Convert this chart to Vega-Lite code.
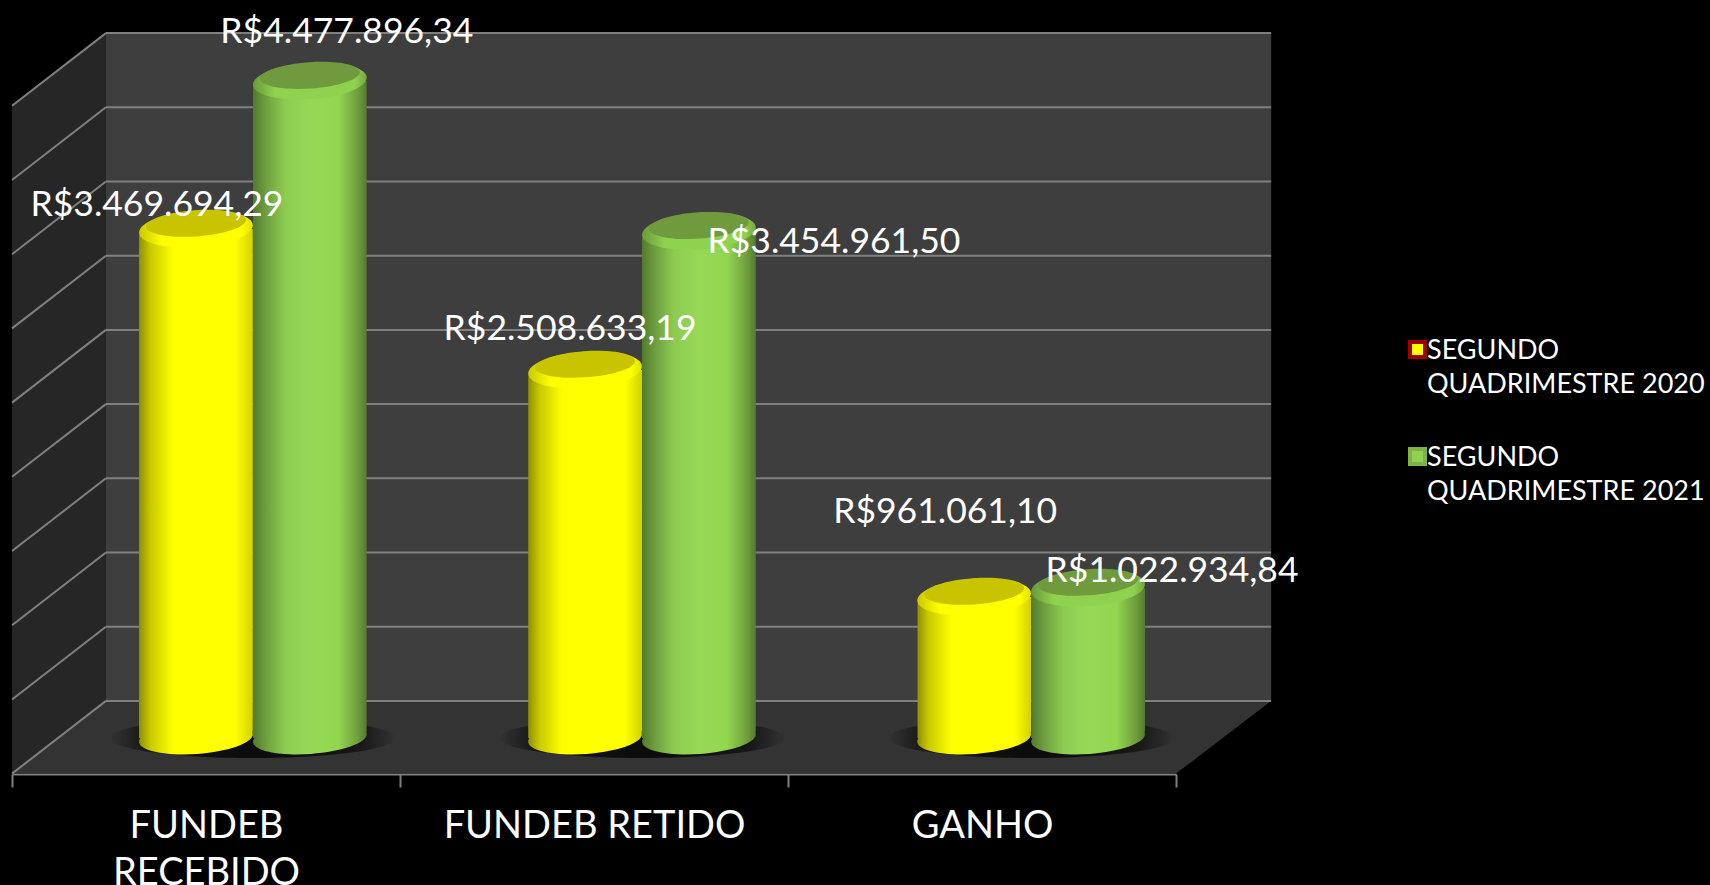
{
"$schema":"https://vega.github.io/schema/vega-lite/v6.json",
"width":1710,"height":885,"padding":0,"autosize":{"type":"none"},
"background":"#000000",
"config":{"view":{"stroke":null},"font":"Lato","text":{"font":"Lato"}},
"datasets":{
"leftWall":[{"pos":0.5,"lo":-242782,"hi":4309373},{"pos":0.742,"lo":252898,"hi":4805053}],
"backWall":[{"pos":0.742,"lo":252898,"hi":4805053},{"pos":3.745,"lo":252898,"hi":4805053}],
"floor":[{"lvl":-242782,"a":0.5,"b":3.5},{"lvl":252898,"a":0.742,"b":3.745}],
"grid":[
{"front":-242782,"back":252898},{"front":263013,"back":758693},{"front":768808,"back":1264488},{"front":1274603,"back":1770283},{"front":1780398,"back":2276078},{"front":2286193,"back":2781873},{"front":2791988,"back":3287668},{"front":3297783,"back":3793463},{"front":3803578,"back":4299258},{"front":4309373,"back":4805053}]
},
"data":{"values":[
{"category":"FUNDEB RECEBIDO","series":"SEGUNDO QUADRIMESTRE 2020","value":3469694.29,"label":"R$3.469.694,29"},
{"category":"FUNDEB RECEBIDO","series":"SEGUNDO QUADRIMESTRE 2021","value":4477896.34,"label":"R$4.477.896,34"},
{"category":"FUNDEB RETIDO","series":"SEGUNDO QUADRIMESTRE 2020","value":2508633.19,"label":"R$2.508.633,19"},
{"category":"FUNDEB RETIDO","series":"SEGUNDO QUADRIMESTRE 2021","value":3454961.50,"label":"R$3.454.961,50"},
{"category":"GANHO","series":"SEGUNDO QUADRIMESTRE 2020","value":961061.10,"label":"R$961.061,10"},
{"category":"GANHO","series":"SEGUNDO QUADRIMESTRE 2021","value":1022934.84,"label":"R$1.022.934,84"}
]},
"resolve":{"scale":{"x":"independent"}},
"layer":[
{
"layer":[
{"data":{"name":"leftWall"},"mark":{"type":"area","fill":"#262626"},
 "encoding":{"x":{"field":"pos","type":"quantitative","axis":null,"scale":{"domain":[0.469,4.876],"nice":false,"zero":false}},
 "y":{"field":"lo","type":"quantitative","axis":null,"scale":{"domain":[-1002045,5030675],"nice":false,"zero":false}},"y2":{"field":"hi"}}},
{"data":{"name":"backWall"},"mark":{"type":"area","fill":"#3e3e3e"},
 "encoding":{"x":{"field":"pos","type":"quantitative","axis":null},
 "y":{"field":"lo","type":"quantitative","axis":null},"y2":{"field":"hi"}}},
{"data":{"name":"floor"},"mark":{"type":"area","orient":"horizontal","fill":"#333333"},
 "encoding":{"y":{"field":"lvl","type":"quantitative","axis":null},
 "x":{"field":"a","type":"quantitative","axis":null},"x2":{"field":"b"}}},
{"data":{"name":"grid"},"mark":{"type":"rule","stroke":"#808080","strokeWidth":2},
 "encoding":{"x":{"datum":0.5,"type":"quantitative","axis":null},"x2":{"datum":0.742},
 "y":{"field":"front","type":"quantitative","axis":null},"y2":{"field":"back"}}},
{"data":{"name":"grid"},"mark":{"type":"rule","stroke":"#808080","strokeWidth":2},
 "encoding":{"x":{"datum":0.742,"type":"quantitative","axis":null},"x2":{"datum":3.745},
 "y":{"field":"back","type":"quantitative","axis":null}}}
]},
{
"transform":[{"filter":"datum.series == 'SEGUNDO QUADRIMESTRE 2021'"}],
"mark":{"type":"point","filled":true,"opacity":1,"size":82000,
 "shape":"M-1,0 A1,0.14 0 1 1 1,0 A1,0.14 0 1 1 -1,0 Z",
 "fill":{"gradient":"radial","x1":0.5,"y1":0.5,"r1":0,"x2":0.5,"y2":0.5,"r2":0.5,"stops":[{"offset":0,"color":"rgba(0,0,0,0.8)"},{"offset":0.75,"color":"rgba(0,0,0,0.55)"},{"offset":1,"color":"rgba(0,0,0,0)"}]}},
 "encoding":{"x":{"field":"category","type":"nominal","axis":null,"sort":null,"scale":{"type":"band","range":[139,1145],"paddingInner":0.4146,"paddingOuter":0}},
 "y":{"datum":0,"type":"quantitative","axis":null}}
},
{
"encoding":{
 "x":{"field":"category","type":"nominal","axis":null,"sort":null,"scale":{"range":[139,1145],"paddingInner":0.4146,"paddingOuter":0}},
 "xOffset":{"field":"series","type":"nominal","sort":null,"scale":{"domain":["SEGUNDO QUADRIMESTRE 2020","SEGUNDO QUADRIMESTRE 2021"]}},
 "y":{"field":"value","type":"quantitative","axis":null}
},
"layer":[
{"transform":[{"filter":"datum.series == 'SEGUNDO QUADRIMESTRE 2020'"}],
"layer":[
 {"mark":{"type":"point","filled":true,"opacity":1,"size":12996,"shape":"M-0.9976,0.0698 A1,0.28 -4 1 1 0.9976,-0.0698 A1,0.28 -4 1 1 -0.9976,0.0698 Z",
  "fill":{"gradient":"linear","x1":0,"y1":0,"x2":1,"y2":0,"stops":[{"offset":0,"color":"#8f8f00"},{"offset":0.1,"color":"#c9c900"},{"offset":0.3,"color":"#ffff00"},{"offset":0.85,"color":"#ffff00"},{"offset":1,"color":"#d2d200"}]}},
  "encoding":{"y":{"datum":0,"type":"quantitative","axis":null}}},
 {"mark":{"type":"bar","cornerRadiusTopLeft":8,"cornerRadiusBottomRight":8,
  "fill":{"gradient":"linear","x1":0,"y1":0,"x2":1,"y2":0,"stops":[{"offset":0,"color":"#8f8f00"},{"offset":0.1,"color":"#c9c900"},{"offset":0.3,"color":"#ffff00"},{"offset":0.85,"color":"#ffff00"},{"offset":1,"color":"#d2d200"}]}}},
 {"mark":{"type":"point","filled":true,"opacity":1,"size":12996,"shape":"M-0.9976,0.0698 A1,0.32 -4 1 1 0.9976,-0.0698 A1,0.32 -4 1 1 -0.9976,0.0698 Z",
  "fill":{"gradient":"linear","x1":0,"y1":0,"x2":1,"y2":0,"stops":[{"offset":0,"color":"#c9c900"},{"offset":0.2,"color":"#ffff00"},{"offset":0.9,"color":"#ffff00"},{"offset":1,"color":"#e0e000"}]}}},
 {"mark":{"type":"point","filled":true,"opacity":1,"size":12996,"color":"#c8c400","fill":"#c8c400","shape":"M-0.878,-0.039 A0.88,0.23 -4 1 1 0.878,-0.161 A0.88,0.23 -4 1 1 -0.878,-0.039 Z"}}
]},
{"transform":[{"filter":"datum.series == 'SEGUNDO QUADRIMESTRE 2021'"}],
"layer":[
 {"mark":{"type":"point","filled":true,"opacity":1,"size":12996,"shape":"M-0.9976,0.0698 A1,0.28 -4 1 1 0.9976,-0.0698 A1,0.28 -4 1 1 -0.9976,0.0698 Z",
  "fill":{"gradient":"linear","x1":0,"y1":0,"x2":1,"y2":0,"stops":[{"offset":0,"color":"#527a2e"},{"offset":0.12,"color":"#6fa040"},{"offset":0.28,"color":"#8ccb50"},{"offset":0.5,"color":"#97d957"},{"offset":0.75,"color":"#92d64f"},{"offset":0.92,"color":"#6f9e3c"},{"offset":1,"color":"#557a30"}]}},
  "encoding":{"y":{"datum":0,"type":"quantitative","axis":null}}},
 {"mark":{"type":"bar","cornerRadiusTopLeft":8,"cornerRadiusBottomRight":8,
  "fill":{"gradient":"linear","x1":0,"y1":0,"x2":1,"y2":0,"stops":[{"offset":0,"color":"#527a2e"},{"offset":0.12,"color":"#6fa040"},{"offset":0.28,"color":"#8ccb50"},{"offset":0.5,"color":"#97d957"},{"offset":0.75,"color":"#92d64f"},{"offset":0.92,"color":"#6f9e3c"},{"offset":1,"color":"#557a30"}]}}},
 {"mark":{"type":"point","filled":true,"opacity":1,"size":12996,"shape":"M-0.9976,0.0698 A1,0.32 -4 1 1 0.9976,-0.0698 A1,0.32 -4 1 1 -0.9976,0.0698 Z",
  "fill":{"gradient":"linear","x1":0,"y1":0,"x2":1,"y2":0,"stops":[{"offset":0,"color":"#6a9a3a"},{"offset":0.2,"color":"#8fd24f"},{"offset":0.9,"color":"#8fd24f"},{"offset":1,"color":"#74a542"}]}}},
 {"mark":{"type":"point","filled":true,"opacity":1,"size":12996,"color":"#6f9a3d","fill":"#6f9a3d","shape":"M-0.878,-0.039 A0.88,0.23 -4 1 1 0.878,-0.161 A0.88,0.23 -4 1 1 -0.878,-0.039 Z"}}
]},
{"transform":[{"filter":"datum.value == 4477896.34"}],"mark":{"type":"text","color":"#ffffff","fontSize":35.5,"align":"center","baseline":"alphabetic","dx":37,"dy":-38},"encoding":{"text":{"field":"label"}}},
{"transform":[{"filter":"datum.value == 3469694.29"}],"mark":{"type":"text","color":"#ffffff","fontSize":35.5,"align":"center","baseline":"alphabetic","dx":-39,"dy":-13},"encoding":{"text":{"field":"label"}}},
{"transform":[{"filter":"datum.value == 2508633.19"}],"mark":{"type":"text","color":"#ffffff","fontSize":35.5,"align":"center","baseline":"alphabetic","dx":-15,"dy":-30},"encoding":{"text":{"field":"label"}}},
{"transform":[{"filter":"datum.value == 3454961.50"}],"mark":{"type":"text","color":"#ffffff","fontSize":35.5,"align":"center","baseline":"alphabetic","dx":135,"dy":22},"encoding":{"text":{"field":"label"}}},
{"transform":[{"filter":"datum.value == 961061.10"}],"mark":{"type":"text","color":"#ffffff","fontSize":35.5,"align":"center","baseline":"alphabetic","dx":-29,"dy":-74},"encoding":{"text":{"field":"label"}}},
{"transform":[{"filter":"datum.value == 1022934.84"}],"mark":{"type":"text","color":"#ffffff","fontSize":35.5,"align":"center","baseline":"alphabetic","dx":84,"dy":-6},"encoding":{"text":{"field":"label"}}},
{"mark":{"type":"point","filled":true,"size":0,"opacity":1},
 "encoding":{
  "color":{"field":"series","type":"nominal","scale":{"domain":["SEGUNDO QUADRIMESTRE 2020","SEGUNDO QUADRIMESTRE 2021"],"range":["#ffff00","#92d050"]},
   "legend":{"title":null,"orient":"none","legendX":1404,"legendY":336,"symbolType":"square","symbolSize":225,"symbolStrokeWidth":4,"labelColor":"#ffffff","labelFont":"Lato","labelFontSize":27,"labelLimit":400,"labelOffset":-4,"labelExpr":"['SEGUNDO', slice(datum.label, 8)]","labelBaseline":"top","rowPadding":43,"encoding":{"labels":{"dy":{"value":-12},"lineHeight":{"value":34}}}}},
  "stroke":{"field":"series","type":"nominal","scale":{"domain":["SEGUNDO QUADRIMESTRE 2020","SEGUNDO QUADRIMESTRE 2021"],"range":["#a00000","#7fb347"]},
   "legend":{"title":null,"orient":"none","legendX":1404,"legendY":336,"symbolType":"square","symbolSize":225,"symbolStrokeWidth":4,"labelColor":"#ffffff","labelFont":"Lato","labelFontSize":27,"labelLimit":400,"labelOffset":-4,"labelExpr":"['SEGUNDO', slice(datum.label, 8)]","labelBaseline":"top","rowPadding":43,"encoding":{"labels":{"dy":{"value":-12},"lineHeight":{"value":34}}}}}
 }}
]},
{
"mark":{"type":"point","size":0,"opacity":0},
"encoding":{
 "x":{"field":"category","type":"nominal","sort":null,"scale":{"type":"band","range":[12,1176],"paddingInner":0,"paddingOuter":0},
  "axis":{"title":null,"orient":"bottom","offset":-111,"domain":true,"domainColor":"#808080","domainWidth":2,"ticks":true,"tickColor":"#808080","tickWidth":2,"tickSize":13,"tickBand":"extent","labelAngle":0,"labelColor":"#ffffff","labelFont":"Lato","labelFontSize":38,"labelLimit":0,"labelPadding":20,"labelLineHeight":47,"labelOverlap":false,"labelFlush":false,"labelExpr":"datum.label == 'FUNDEB RECEBIDO' ? ['FUNDEB','RECEBIDO'] : datum.label","grid":false}},
 "y":{"field":"value","type":"quantitative","axis":null}
}}
]
}
